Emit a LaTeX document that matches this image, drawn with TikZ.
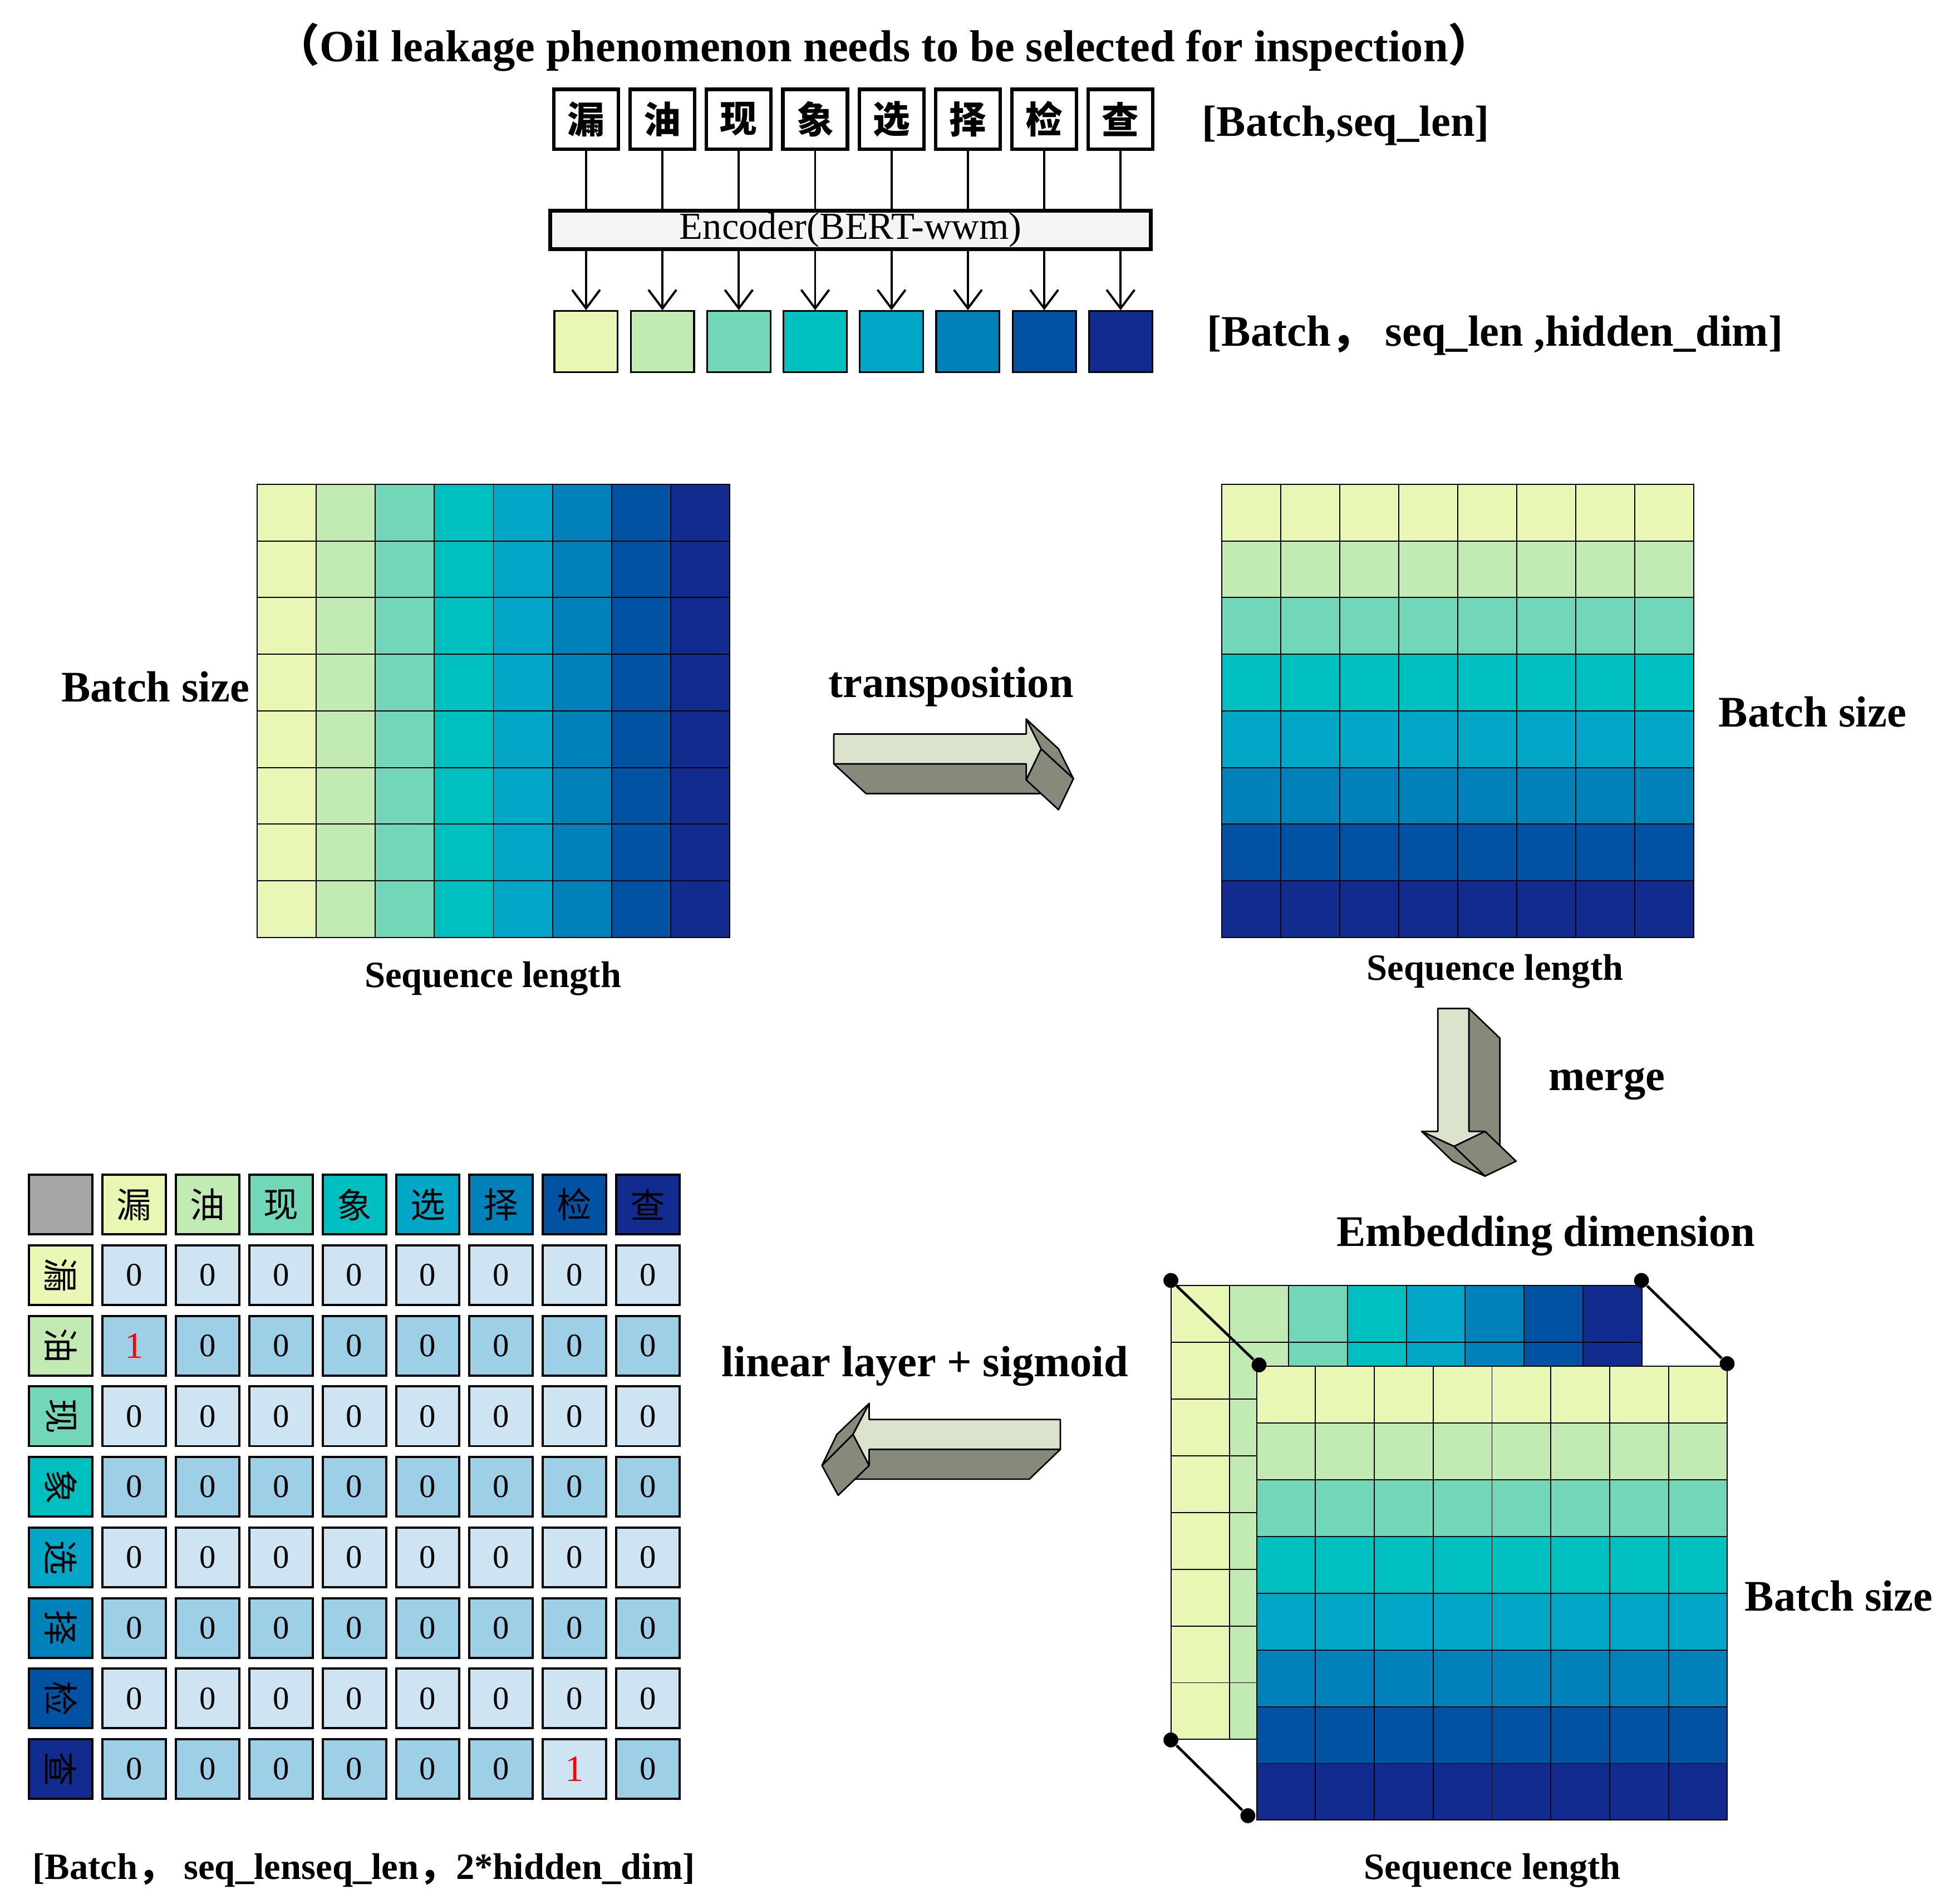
\documentclass[tikz,border=0pt]{standalone}
\usepackage{fontspec}
\setmainfont{Liberation Serif}
\newfontfamily\cjk{Noto Sans CJK SC}
\usetikzlibrary{positioning,arrows.meta}
\definecolor{col1}{HTML}{E9F7B4}
\definecolor{col2}{HTML}{C2EBB3}
\definecolor{col3}{HTML}{72D6B8}
\definecolor{col4}{HTML}{00BFC0}
\definecolor{col5}{HTML}{02A6C6}
\definecolor{col6}{HTML}{0181BA}
\definecolor{col7}{HTML}{0152A3}
\definecolor{col8}{HTML}{122B8E}
\definecolor{arrlight}{HTML}{DCE3CC}
\definecolor{arrdark}{HTML}{868A7A}
\definecolor{vallight}{HTML}{CFE4F3}
\definecolor{valdark}{HTML}{9DCFE6}
\tikzset{lab/.style={font=\fontsize{20}{24}\selectfont\bfseries}}
\tikzset{sublab/.style={font=\fontsize{17}{20}\selectfont\bfseries}}
\tikzset{charbox/.style={draw,line width=1.6pt,minimum width=10.4mm,minimum height=9.6mm,inner sep=0pt,font=\fontsize{17}{20}\selectfont\cjk\bfseries}}
\tikzset{embbox/.style={draw,line width=0.8pt,minimum width=10.2mm,minimum height=9.8mm,inner sep=0pt}}
\tikzset{cell/.style={draw,line width=0.5pt}}
\tikzset{mcell/.style={draw,line width=1pt,minimum width=10.2mm,minimum height=9.6mm,inner sep=0pt,font=\fontsize{15}{18}\selectfont}}
\tikzset{face/.style={draw,line width=0.7pt,line join=round}}
\tikzset{dot/.style={circle,fill,inner sep=0pt,minimum size=2.4mm}}

\begin{document}
\begin{tikzpicture}[x=0.2mm,y=-0.2mm]
\useasboundingbox (0,0) rectangle (1560,1533);

% title and word boxes
\node[font=\fontsize{20.5}{24}\selectfont\bfseries] (title) at (712,38) {{\cjk （}Oil leakage phenomenon needs to be selected for inspection{\cjk ）}};
\node[draw,line width=1.8pt,fill=black!4,minimum width=96.8mm,minimum height=6.2mm,inner sep=0pt,font=\fontsize{17.5}{20}\selectfont] (enc) at (685,185) {Encoder(BERT-wwm)};
\foreach \c [count=\i] in {漏,油,现,象,选,择,检,查}{
  \node[charbox] (w\i) at ({472+61.5*(\i-1)},96) {\c};
  \node[embbox,fill=col\i] (e\i) at ({472+61.5*(\i-1)},275) {};
  \draw[line width=1pt] (w\i) -- (w\i |- enc.north);
  \draw[line width=1pt,-{Straight Barb[length=3mm,width=4.5mm]}] (w\i |- enc.south) -- (e\i);
}
\node[lab,anchor=west] (shape1) at (962,101) {[Batch,seq\_len]};
\node[lab,anchor=west] (shape2) at (966,270) {[Batch{\cjk ，}\ seq\_len ,hidden\_dim]};

% left matrix, coloured by column
\foreach \c in {0,...,7}{
  \pgfmathtruncatemacro\k{\c+1}
  \foreach \r in {0,...,7}
    \draw[cell,fill=col\k] ({207+47.6*\c},{390+45.6*\r}) rectangle ++(47.6,45.6);
}
\node[lab,anchor=east] (bsz1) at (207,553) {Batch size};
\node[sublab] (seq1) at (397,788) {Sequence length};

% right matrix, coloured by row
\foreach \r in {0,...,7}{
  \pgfmathtruncatemacro\k{\r+1}
  \foreach \c in {0,...,7}
    \draw[cell,fill=col\k] ({984+47.5*\c},{390+45.6*\r}) rectangle ++(47.5,45.6);
}
\node[lab,anchor=west] (bsz2) at (1378,573) {Batch size};
\node[sublab] (seq2) at (1204,782) {Sequence length};

% transposition arrow
\node[lab] (trans) at (766,553) {transposition};
\fill[face,fill=arrdark] (671.5,615) -- (826.5,615) -- (852.5,639) -- (697.5,639) -- cycle;
\fill[face,fill=arrdark] (826.5,579) -- (838.5,603) -- (864.5,627) -- (852.5,603) -- cycle;
\fill[face,fill=arrdark] (838.5,603) -- (826.5,628) -- (852.5,652) -- (864.5,627) -- cycle;
\fill[face,fill=arrlight] (671.5,591) -- (826.5,591) -- (826.5,579) -- (838.5,603) -- (826.5,628) -- (826.5,615) -- (671.5,615) -- cycle;

% merge arrow
\node[lab] (merge) at (1294,873) {merge};
\fill[face,fill=arrdark] (1183,812) -- (1208,836) -- (1208,935) -- (1183,911) -- cycle;
\fill[face,fill=arrdark] (1145,911) -- (1171,923) -- (1196,947) -- (1170,935) -- cycle;
\fill[face,fill=arrdark] (1171,923) -- (1196,911) -- (1221,935) -- (1196,947) -- cycle;
\fill[face,fill=arrlight] (1158,812) -- (1183,812) -- (1183,911) -- (1196,911) -- (1171,923) -- (1145,911) -- (1158,911) -- cycle;

% merged block
\node[lab] (emb) at (1245,995) {Embedding dimension};
\foreach \c in {0,...,7}{
  \pgfmathtruncatemacro\k{\c+1}
  \foreach \r in {0,...,7}
    \draw[cell,fill=col\k] ({943+47.4*\c},{1035+45.7*\r}) rectangle ++(47.4,45.7);
}
\foreach \r in {0,...,7}{
  \pgfmathtruncatemacro\k{\r+1}
  \foreach \c in {0,...,7}
    \draw[cell,fill=col\k] ({1012+47.4*\c},{1100+45.7*\r}) rectangle ++(47.4,45.7);
}
\node[dot] (btl) at (943,1031) {};
\node[dot] (btr) at (1322,1031) {};
\node[dot] (bbl) at (943,1401) {};
\node[dot] (ftl) at (1014,1099) {};
\node[dot] (ftr) at (1391,1098) {};
\node[dot] (fbl) at (1005,1462) {};
\draw[line width=1.2pt] (btl) -- (ftl);
\draw[line width=1.2pt] (btr) -- (ftr);
\draw[line width=1.2pt] (bbl) -- (fbl);
\node[lab,anchor=west] (bsz3) at (1399,1285) {Batch size};
\node[sublab] (seq3) at (1202,1506) {Sequence length};

% linear layer arrow
\node[lab] (lin) at (745,1100) {linear layer + sigmoid};
\fill[face,fill=arrdark] (854,1167) -- (829,1191) -- (675,1191) -- (700,1167) -- cycle;
\fill[face,fill=arrdark] (700,1130) -- (674,1155) -- (662,1180) -- (687,1155) -- cycle;
\fill[face,fill=arrdark] (687,1155) -- (700,1180) -- (675,1204) -- (662,1180) -- cycle;
\fill[face,fill=arrlight] (854,1143) -- (700,1143) -- (700,1130) -- (687,1155) -- (700,1180) -- (700,1167) -- (854,1167) -- cycle;

% label matrix
\node[mcell,fill=black!35] (h00) at (49,970) {};
\foreach \c [count=\i] in {漏,油,现,象,选,择,检,查}{
  \node[mcell,fill=col\i,font=\fontsize{16}{18}\selectfont\cjk] (h0\i) at ({49+59.1*\i},970) {\c};
  \node[mcell,fill=col\i,font=\fontsize{16}{18}\selectfont\cjk] (h\i0) at (49,{970+56.8*\i}) {\rotatebox{-90}{\c}};
  \pgfmathtruncatemacro\odd{mod(\i,2)}
  \foreach \j in {1,...,8}{
    \ifnum\odd=1 \def\fc{vallight}\else\def\fc{valdark}\fi
    \node[mcell,fill=\fc] (m\i\j) at ({49+59.1*\j},{970+56.8*\i}) {0};
  }
}
\node[mcell,fill=valdark,text=red,font=\fontsize{17}{18}\selectfont] at (m21) {1};
\node[mcell,fill=vallight,text=red,font=\fontsize{17}{18}\selectfont] at (m87) {1};
\node[sublab] (shape3) at (293,1506) {[Batch{\cjk ，}\ seq\_lenseq\_len{\cjk ，}2*hidden\_dim]};
\end{tikzpicture}
\end{document}
